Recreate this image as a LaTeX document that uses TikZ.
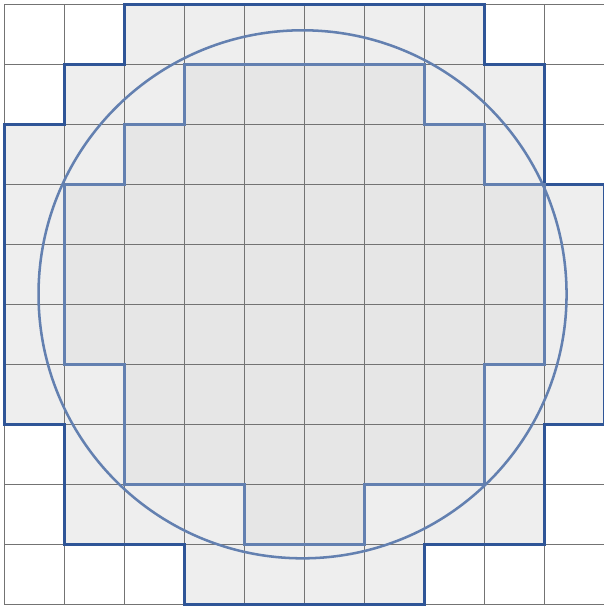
\documentclass[tikz,border=0pt]{standalone}
\usepackage{tikz}

\definecolor{azulescuro}{HTML}{2F5597}
\definecolor{azulclaro}{HTML}{6380B0}
\definecolor{cinzaclaro}{HTML}{EEEEEE}
\definecolor{cinzamedio}{HTML}{E6E6E6}

\begin{document}
\begin{tikzpicture}[
    x=1cm, y=-1cm,
    grade/.style={draw=black!55, line width=0.6pt},
    externo/.style={draw=azulescuro, line width=1.4pt, fill=cinzaclaro},
    interno/.style={draw=azulclaro, line width=1.2pt, fill=cinzamedio},
    circulo/.style={draw=azulclaro, line width=1.2pt}
]
\useasboundingbox (-0.072,-0.075) rectangle (9.978,10.058);

% regiões preenchidas
\fill[cinzaclaro] (2,0) -- (8,0) -- (8,1) -- (9,1) -- (9,3) -- (10,3) -- (10,7) -- (9,7) -- (9,9) -- (7,9) -- (7,10) -- (3,10) -- (3,9) -- (1,9) -- (1,7) -- (0,7) -- (0,2) -- (1,2) -- (1,1) -- (2,1) -- cycle;
\fill[cinzamedio] (3,1) -- (7,1) -- (7,2) -- (8,2) -- (8,3) -- (9,3) -- (9,6) -- (8,6) -- (8,8) -- (6,8) -- (6,9) -- (4,9) -- (4,8) -- (2,8) -- (2,6) -- (1,6) -- (1,3) -- (2,3) -- (2,2) -- (3,2) -- cycle;

% malha
\draw[grade] (0,0) grid (10,10);

% contornos
\draw[externo, fill=none, line join=miter] (2,0) -- (8,0) -- (8,1) -- (9,1) -- (9,3) -- (10,3) -- (10,7) -- (9,7) -- (9,9) -- (7,9) -- (7,10) -- (3,10) -- (3,9) -- (1,9) -- (1,7) -- (0,7) -- (0,2) -- (1,2) -- (1,1) -- (2,1) -- cycle;
\draw[interno, fill=none] (3,1) -- (7,1) -- (7,2) -- (8,2) -- (8,3) -- (9,3) -- (9,6) -- (8,6) -- (8,8) -- (6,8) -- (6,9) -- (4,9) -- (4,8) -- (2,8) -- (2,6) -- (1,6) -- (1,3) -- (2,3) -- (2,2) -- (3,2) -- cycle;

\draw[circulo] (4.97,4.83) circle [radius=4.40];
\end{tikzpicture}
\end{document}
